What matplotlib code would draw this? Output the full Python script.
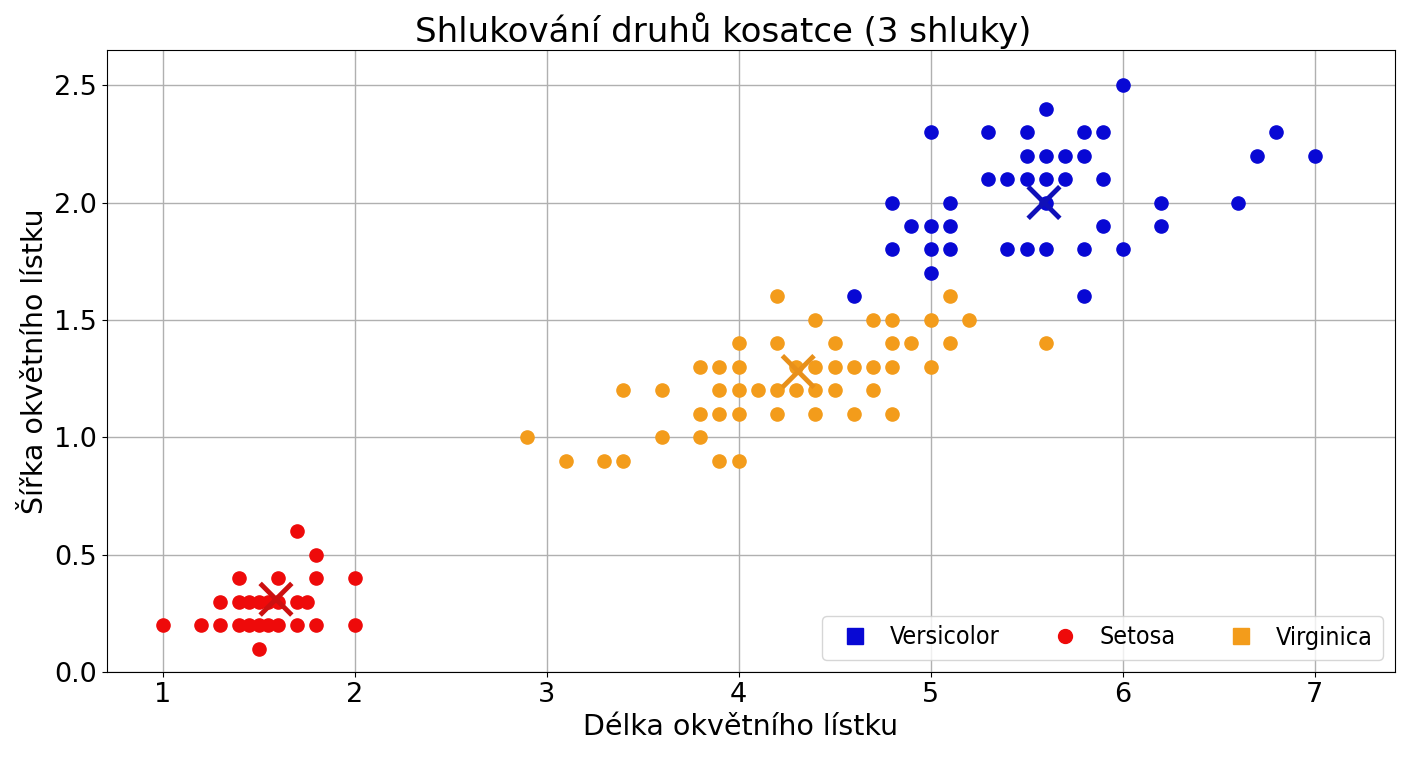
import numpy as np
import matplotlib
matplotlib.use("Agg")
import matplotlib.pyplot as plt
from matplotlib.lines import Line2D

# Setosa (red)
setosa_x = [1.7, 1.8,
            1.4, 1.6, 1.8, 2.0,
            1.3, 1.4, 1.45, 1.5, 1.55, 1.6, 1.7, 1.75,
            1.0, 1.2, 1.3, 1.4, 1.45, 1.5, 1.55, 1.6, 1.7, 1.8, 2.0,
            1.5]
setosa_y = [0.6, 0.5,
            0.4, 0.4, 0.4, 0.4,
            0.3, 0.3, 0.3, 0.3, 0.3, 0.3, 0.3, 0.3,
            0.2, 0.2, 0.2, 0.2, 0.2, 0.2, 0.2, 0.2, 0.2, 0.2, 0.2,
            0.1]

# Virginica (orange)
virginica_x = [4.2, 5.1,
               4.4, 4.7, 4.8, 5.0, 5.2,
               4.0, 4.2, 4.5, 4.8, 4.9, 5.1, 5.6,
               3.8, 3.9, 4.0, 4.3, 4.4, 4.5, 4.6, 4.7, 4.8, 5.0,
               3.4, 3.6, 3.9, 4.0, 4.1, 4.2, 4.3, 4.4, 4.5, 4.7,
               3.8, 3.9, 4.0, 4.2, 4.4, 4.6, 4.8,
               2.9, 3.6, 3.8,
               3.1, 3.3, 3.4, 3.9, 4.0]
virginica_y = [1.6, 1.6,
               1.5, 1.5, 1.5, 1.5, 1.5,
               1.4, 1.4, 1.4, 1.4, 1.4, 1.4, 1.4,
               1.3, 1.3, 1.3, 1.3, 1.3, 1.3, 1.3, 1.3, 1.3, 1.3,
               1.2, 1.2, 1.2, 1.2, 1.2, 1.2, 1.2, 1.2, 1.2, 1.2,
               1.1, 1.1, 1.1, 1.1, 1.1, 1.1, 1.1,
               1.0, 1.0, 1.0,
               0.9, 0.9, 0.9, 0.9, 0.9]

# Versicolor (blue)
versicolor_x = [6.0,
                5.6,
                5.0, 5.3, 5.5, 5.8, 5.9, 6.8,
                5.5, 5.6, 5.7, 5.8, 6.7, 7.0,
                5.3, 5.4, 5.5, 5.6, 5.7, 5.9,
                4.8, 5.1, 5.6, 6.2, 6.6,
                4.9, 5.0, 5.1, 5.9, 6.2,
                4.8, 5.0, 5.1, 5.4, 5.5, 5.6, 5.8, 6.0,
                5.0,
                4.6, 5.8]
versicolor_y = [2.5,
                2.4,
                2.3, 2.3, 2.3, 2.3, 2.3, 2.3,
                2.2, 2.2, 2.2, 2.2, 2.2, 2.2,
                2.1, 2.1, 2.1, 2.1, 2.1, 2.1,
                2.0, 2.0, 2.0, 2.0, 2.0,
                1.9, 1.9, 1.9, 1.9, 1.9,
                1.8, 1.8, 1.8, 1.8, 1.8, 1.8, 1.8, 1.8,
                1.7,
                1.6, 1.6]

# cluster centres
centre_x = [1.59, 4.31, 5.59]
centre_y = [0.31, 1.28, 2.00]
centre_colors = ['#cc1010', '#e8901a', '#1010b8']

legend_labels = ["Versicolor", "Setosa", "Virginica"]

red = '#ee0a0a'
orange = '#f39c1b'
blue = '#0808d4'

fig = plt.figure(figsize=(14.08, 7.68), dpi=100)
ax = fig.add_axes([0.076, 0.125, 0.915, 0.81])

ax.scatter(versicolor_x, versicolor_y, s=90, color=blue, zorder=3)
ax.scatter(setosa_x, setosa_y, s=90, color=red, zorder=3)
ax.scatter(virginica_x, virginica_y, s=90, color=orange, zorder=3)
ax.scatter(centre_x, centre_y, s=520, marker='x', c=centre_colors,
           linewidths=3.5, zorder=4)

ax.set_xlim(0.71, 7.42)
ax.set_ylim(0, 2.65)
ax.set_xticks([1, 2, 3, 4, 5, 6, 7])
ax.set_yticks([0.0, 0.5, 1.0, 1.5, 2.0, 2.5])
ax.tick_params(labelsize=19.5)
ax.grid(True, color='#b0b0b0', linewidth=1)
ax.set_axisbelow(True)

ax.set_title("Shlukování druhů kosatce (3 shluky)", fontsize=24.5, x=0.478)
ax.set_xlabel("Délka okvětního lístku", fontsize=20.5, x=0.492)
ax.set_ylabel("Šířka okvětního lístku", fontsize=20.5)

handles = [
    Line2D([], [], marker='s', linestyle='', color=blue, markersize=12),
    Line2D([], [], marker='o', linestyle='', color=red, markersize=10),
    Line2D([], [], marker='s', linestyle='', color=orange, markersize=12),
]
ax.legend(handles, legend_labels, ncol=3, loc='lower right',
          prop={'family': 'DejaVu Sans', 'stretch': 'condensed', 'size': 18},
          handlelength=1.8, handletextpad=0.5, columnspacing=1.7,
          borderaxespad=0.5)

plt.savefig("out.png", dpi=100)
plt.close()
